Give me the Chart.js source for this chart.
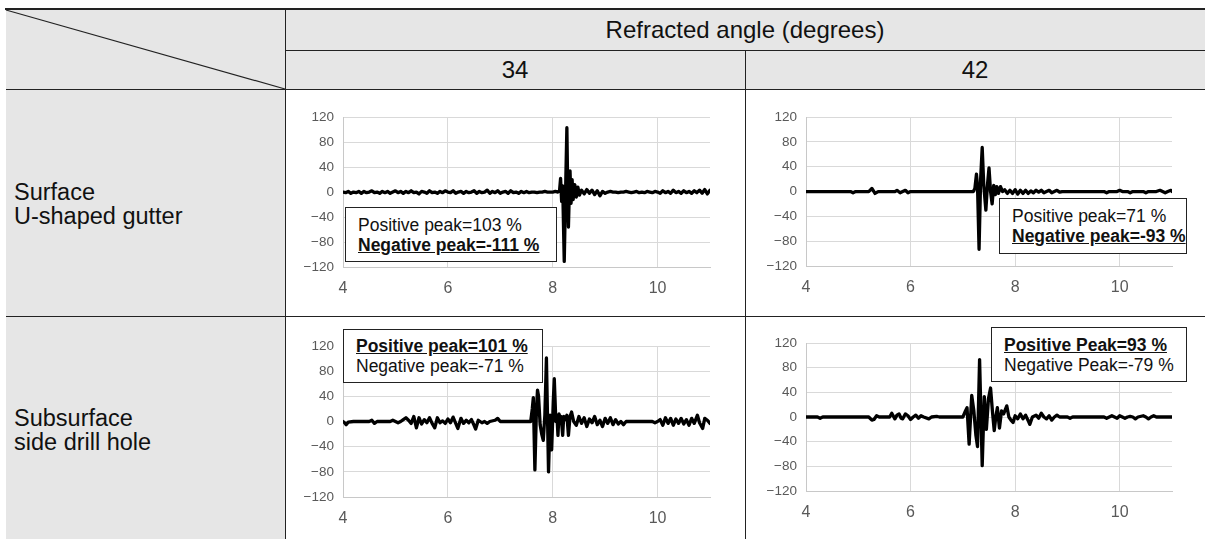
<!DOCTYPE html>
<html><head><meta charset="utf-8">
<script src="https://cdn.jsdelivr.net/npm/chart.js@4/dist/chart.umd.min.js"></script>
<style>
html,body{margin:0;padding:0;background:#fff;}
body{width:1205px;height:539px;position:relative;overflow:hidden;font-family:"Liberation Sans",Arial,sans-serif;color:#111;}
.abs{position:absolute;}
.gray{background:#e6e6e6;}
.hl{position:absolute;height:1px;background:#222;}
.vl{position:absolute;width:1px;background:#222;}
.hdr{position:absolute;font-size:24px;text-align:center;line-height:28px;}
.rowlbl{position:absolute;left:14px;font-size:23.5px;line-height:24px;}
canvas{position:absolute;}
.box{position:absolute;background:#fff;border:1px solid #222;font-size:17.5px;line-height:20px;padding:0 0 0 12px;box-sizing:border-box;z-index:5;display:flex;flex-direction:column;justify-content:center;}
.box b{text-decoration:underline;}
</style></head>
<body>
<div class="abs gray" style="left:6px;top:10px;width:1199px;height:79px;"></div>
<div class="abs gray" style="left:6px;top:89px;width:279px;height:450px;"></div>
<div class="abs" style="left:5px;top:8px;width:1200px;height:2px;background:#222;"></div>
<div class="hl" style="left:285px;top:50px;width:920px;"></div>
<div class="hl" style="left:6px;top:89px;width:1199px;"></div>
<div class="hl" style="left:6px;top:316px;width:1199px;"></div>
<div class="vl" style="left:285px;top:10px;height:529px;"></div>
<div class="vl" style="left:745px;top:50px;height:489px;"></div>
<svg class="abs" style="left:0;top:0" width="300" height="100"><line x1="6" y1="10" x2="285" y2="89" stroke="#222" stroke-width="1.2"/></svg>
<div id="hTop" class="hdr" style="left:285px;top:16px;width:920px;"></div>
<div id="hC0" class="hdr" style="left:285px;top:56px;width:460px;"></div>
<div id="hC1" class="hdr" style="left:745px;top:56px;width:460px;"></div>
<div id="rL0" class="rowlbl" style="top:180px;"></div>
<div id="rL1" class="rowlbl" style="top:406px;"></div>

<canvas id="cA" width="440" height="210" style="left:288px;top:100px;"></canvas>
<canvas id="cB" width="450" height="210" style="left:750px;top:100px;"></canvas>
<canvas id="cC" width="440" height="210" style="left:288px;top:325px;"></canvas>
<canvas id="cD" width="450" height="210" style="left:750px;top:325px;"></canvas>

<div id="bA" class="box" style="left:345px;top:207px;width:212px;height:55px;"></div>
<div id="bB" class="box" style="left:999px;top:198px;width:188px;height:56px;"></div>
<div id="bC" class="box" style="left:343px;top:329px;width:200px;height:54px;"></div>
<div id="bD" class="box" style="left:991px;top:327px;width:196px;height:55px;"></div>

<script>
// ---------- text content ----------
const topHeader = "Refracted angle (degrees)";
const angleHeaders = ["34", "42"];
const rowHeaders = [["Surface", "U-shaped gutter"], ["Subsurface", "side drill hole"]];
const peakLabels = {
  A: ["Positive peak=103 %", "Negative peak=-111 %", 1],
  B: ["Positive peak=71 %", "Negative peak=-93 %", 1],
  C: ["Positive peak=101 %", "Negative peak=-71 %", 0],
  D: ["Positive Peak=93 %", "Negative Peak=-79 %", 0]
};
// ---------- axis ticks ----------
const xTicks = [4, 6, 8, 10];
const xRange = [4, 11];
const yTicks = [-120, -80, -40, 0, 40, 80, 120];

// ---------- waveforms [time, amplitude %] ----------
const surface34 = [
[4.00,0],[4.05,-1],[4.10,1],[4.15,-2],[4.20,0],[4.25,-1],[4.30,1],[4.35,-2],[4.40,1],[4.45,-1],
[4.50,0],[4.55,2],[4.60,-1],[4.65,0],[4.70,-2],[4.75,1],[4.80,-1],[4.85,1],[4.90,-2],[4.95,0],
[5.00,2],[5.05,-1],[5.10,1],[5.15,-2],[5.20,1],[5.25,-1],[5.30,2],[5.35,-1],[5.40,0],[5.45,-3],
[5.50,1],[5.55,0],[5.60,-2],[5.65,2],[5.70,-1],[5.75,0],[5.80,-2],[5.85,1],[5.90,-1],[5.95,2],
[6.00,0],[6.05,-1],[6.10,2],[6.15,-2],[6.20,0],[6.25,1],[6.30,-2],[6.35,1],[6.40,-1],[6.45,0],
[6.50,2],[6.55,-2],[6.60,1],[6.65,-1],[6.70,0],[6.75,3],[6.80,-2],[6.85,1],[6.90,-1],[6.95,2],
[7.00,-2],[7.05,0],[7.10,1],[7.15,-2],[7.20,2],[7.25,-1],[7.30,0],[7.35,-2],[7.40,1],[7.45,-1],
[7.50,1],[7.55,-1],[7.60,0],[7.65,0],[7.70,-1],[7.75,0],[7.80,0],[7.85,1],[7.90,0],[7.95,0],
[8.00,0],[8.05,1],[8.10,0],[8.13,2],[8.15,22],[8.17,-15],[8.19,10],[8.22,-111],[8.25,20],[8.27,103],
[8.29,-20],[8.30,-56],[8.32,10],[8.33,34],[8.35,-18],[8.37,20],[8.39,-12],[8.42,12],[8.45,-8],[8.48,8],
[8.51,-5],[8.55,3],[8.60,-3],[8.65,4],[8.70,-2],[8.75,3],[8.80,-4],[8.85,2],[8.90,-6],[8.95,1],
[9.00,-2],[9.05,0],[9.10,1],[9.15,0],[9.20,0],[9.25,-1],[9.30,0],[9.35,0],[9.40,1],[9.45,0],
[9.50,-1],[9.55,0],[9.60,1],[9.65,-1],[9.70,0],[9.75,-1],[9.80,1],[9.85,0],[9.90,-1],[9.95,1],
[10.00,0],[10.05,-2],[10.10,2],[10.15,-1],[10.20,1],[10.25,-2],[10.30,3],[10.35,-1],[10.40,1],[10.45,-2],
[10.50,2],[10.55,-1],[10.60,1],[10.65,-2],[10.70,2],[10.75,-1],[10.80,3],[10.85,-2],[10.90,4],[10.95,-3],[11.00,3]
];
const surface42 = [
[4.00,0],[4.50,0],[4.85,0],[4.90,-2],[4.95,0],[5.20,0],[5.26,5],[5.32,-3],[5.38,0],[5.70,0],
[5.74,2],[5.80,-2],[5.85,0],[5.90,2],[5.95,-2],[6.00,0],[7.20,0],[7.23,5],[7.26,28],[7.28,10],
[7.31,-93],[7.34,20],[7.37,71],[7.40,10],[7.44,-30],[7.47,10],[7.50,38],[7.53,0],[7.56,-20],[7.59,10],
[7.62,-5],[7.65,8],[7.68,-3],[7.72,8],[7.76,0],[7.80,3],[7.85,-3],[7.90,2],[7.95,-3],[8.00,3],
[8.05,-4],[8.10,2],[8.15,-3],[8.20,2],[8.25,-3],[8.30,1],[8.35,-2],[8.40,2],[8.45,-1],[8.50,2],
[8.55,-2],[8.60,0],[8.65,2],[8.70,-2],[8.75,0],[8.80,2],[8.85,-1],[8.90,0],[9.70,0],[9.75,-2],
[9.80,0],[9.95,0],[10.00,2],[10.05,0],[10.15,0],[10.20,-2],[10.25,0],[10.45,0],[10.50,-2],[10.55,0],
[10.70,0],[10.77,2],[10.82,0],[10.87,-2],[10.92,0],[10.98,2],[11.00,0]
];
const subsurface34 = [
[4.00,0],[4.03,-2],[4.06,-5],[4.10,-1],[4.20,0],[4.50,0],[4.55,2],[4.60,-3],[4.65,0],[4.90,0],
[4.95,2],[5.00,0],[5.05,-2],[5.10,0],[5.15,3],[5.20,6],[5.25,2],[5.30,-3],[5.35,8],[5.40,-10],
[5.45,6],[5.50,-4],[5.55,3],[5.60,-2],[5.65,6],[5.70,-3],[5.75,-10],[5.80,6],[5.85,-2],[5.90,1],
[5.95,-3],[6.00,4],[6.05,-2],[6.10,7],[6.15,-3],[6.19,-11],[6.25,5],[6.30,-3],[6.35,2],[6.40,-2],
[6.45,3],[6.50,-6],[6.53,-12],[6.58,2],[6.65,-2],[6.70,0],[6.75,-3],[6.80,0],[6.90,2],[6.95,5],
[7.00,0],[7.30,0],[7.58,0],[7.61,20],[7.63,38],[7.66,-77],[7.69,20],[7.71,50],[7.73,40],[7.76,-5],
[7.79,-20],[7.82,-30],[7.85,10],[7.88,101],[7.92,-80],[7.95,10],[7.98,-45],[8.01,30],[8.03,68],[8.06,0],
[8.08,10],[8.10,-22],[8.12,12],[8.14,2],[8.16,8],[8.19,-22],[8.21,8],[8.24,3],[8.27,10],[8.30,-22],
[8.33,8],[8.36,15],[8.40,0],[8.45,-6],[8.50,8],[8.55,-3],[8.60,6],[8.65,-8],[8.70,4],[8.75,-2],
[8.80,8],[8.85,-5],[8.90,2],[8.95,-8],[9.00,5],[9.05,-3],[9.10,6],[9.15,-5],[9.20,3],[9.25,-4],
[9.30,0],[9.35,-5],[9.40,0],[9.50,0],[9.90,0],[9.95,-2],[10.00,0],[10.05,3],[10.10,-6],[10.15,6],
[10.20,-3],[10.25,5],[10.30,-6],[10.35,4],[10.40,-3],[10.45,5],[10.50,-4],[10.55,3],[10.60,-6],[10.65,5],
[10.70,-3],[10.76,10],[10.80,-2],[10.86,-11],[10.90,5],[10.95,2],[11.00,-3]
];
const subsurface42 = [
[4.00,0],[4.22,0],[4.27,-2],[4.32,0],[5.20,0],[5.26,-5],[5.30,-4],[5.35,2],[5.40,0],[5.60,0],
[5.64,6],[5.70,-3],[5.74,3],[5.78,5],[5.82,-2],[5.85,-3],[5.90,5],[5.95,2],[6.00,-4],[6.05,0],
[6.10,3],[6.15,-2],[6.20,2],[6.25,0],[6.35,-3],[6.40,0],[6.50,1],[6.55,0],[7.00,0],[7.04,8],
[7.08,15],[7.12,-44],[7.17,35],[7.21,10],[7.25,-30],[7.28,-48],[7.32,93],[7.37,-79],[7.41,33],[7.45,-20],
[7.49,30],[7.53,47],[7.57,5],[7.60,-22],[7.63,0],[7.66,15],[7.70,-18],[7.74,10],[7.78,5],[7.84,18],
[7.88,0],[7.92,-5],[7.96,-9],[8.00,2],[8.05,-3],[8.10,5],[8.15,-3],[8.20,3],[8.25,-6],[8.28,-12],
[8.33,0],[8.40,3],[8.45,-2],[8.50,6],[8.55,0],[8.60,-3],[8.65,2],[8.70,-5],[8.75,0],[8.80,3],
[8.85,0],[9.00,0],[9.05,-2],[9.10,0],[9.70,0],[9.75,-2],[9.80,0],[9.85,2],[9.90,0],[9.95,-2],
[10.00,2],[10.05,0],[10.10,-2],[10.15,0],[10.20,1],[10.25,0],[10.30,-3],[10.35,0],[10.45,2],[10.50,0],
[10.55,-3],[10.60,0],[10.65,2],[10.70,0],[11.00,0]
];

// ---------- text placement ----------
document.getElementById('hTop').textContent = topHeader;
document.getElementById('hC0').textContent = angleHeaders[0];
document.getElementById('hC1').textContent = angleHeaders[1];
rowHeaders.forEach((lines, i) => {
  const el = document.getElementById('rL' + i);
  lines.forEach((s, j) => { if (j) el.appendChild(document.createElement('br')); el.appendChild(document.createTextNode(s)); });
});
Object.keys(peakLabels).forEach(k => {
  const [p, n, boldIdx] = peakLabels[k];
  const el = document.getElementById('b' + k);
  [p, n].forEach((s, i) => {
    const d = document.createElement('div');
    if (i === boldIdx) { const b = document.createElement('b'); b.textContent = s; d.appendChild(b); }
    else d.textContent = s;
    el.appendChild(d);
  });
});

// ---------- charts ----------
// layout: [padTop, padRight, yAxisWidth, xAxisHeight]
const layouts = { cA: [17, 18, 55, 43], cB: [16, 28, 56, 44], cC: [21, 18, 55, 38], cD: [18, 28, 56, 44] };
const series = { cA: surface34, cB: surface42, cC: subsurface34, cD: subsurface42 };

Object.keys(series).forEach(id => {
  const [pt, pr, yw, xh] = layouts[id];
  new Chart(document.getElementById(id), {
    type: 'line',
    data: { datasets: [{
      data: series[id].map(p => ({ x: p[0], y: p[1] })),
      borderColor: '#000', borderWidth: 3.3, pointRadius: 0, tension: 0,
      borderJoinStyle: 'round', borderCapStyle: 'round', fill: false
    }]},
    options: {
      responsive: false, animation: false, devicePixelRatio: 1,
      layout: { padding: { top: pt, right: pr, left: 0, bottom: 0 } },
      plugins: { legend: { display: false }, tooltip: { enabled: false } },
      scales: {
        x: {
          type: 'linear', min: xRange[0], max: xRange[1],
          afterBuildTicks: s => { s.ticks = xTicks.map(v => ({ value: v })); },
          afterFit: s => { s.height = xh; },
          grid: { color: '#d9d9d9', lineWidth: 1, drawTicks: false },
          border: { color: '#c8c8c8' },
          ticks: { color: '#595959', font: { family: 'Liberation Sans', size: 16 }, padding: 12, maxRotation: 0 }
        },
        y: {
          min: yTicks[0], max: yTicks[yTicks.length - 1],
          afterBuildTicks: s => { s.ticks = yTicks.map(v => ({ value: v })); },
          afterFit: s => { s.width = yw; },
          grid: { color: '#d9d9d9', lineWidth: 1, drawTicks: false },
          border: { color: '#c8c8c8' },
          ticks: { color: '#595959', font: { family: 'Liberation Sans', size: 13.5 }, padding: 9,
                   callback: v => String(v).replace('-', '\u2212') }
        }
      }
    }
  });
});
</script>
</body></html>
